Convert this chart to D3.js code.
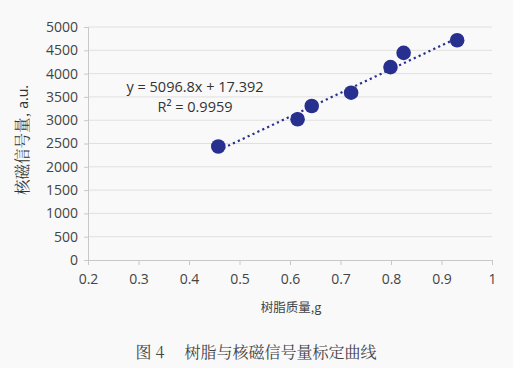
<!DOCTYPE html>
<html><head><meta charset="utf-8">
<script src="https://cdn.jsdelivr.net/npm/d3@7"></script>
<style>
html,body{margin:0;padding:0;background:#f9f9f9;}
svg{display:block;}
</style></head>
<body>
<script>
const massG = [0.458, 0.615, 0.643, 0.721, 0.799, 0.825, 0.931];
const signal = [2435, 3020, 3305, 3590, 4140, 4445, 4715];
const xTicks = [0.2,0.3,0.4,0.5,0.6,0.7,0.8,0.9,1];
const yTicks = [0,500,1000,1500,2000,2500,3000,3500,4000,4500,5000];
const slope = 5096.8, intercept = 17.392;
const eqText = "y = 5096.8x + 17.392";
const r2Text = "R² = 0.9959";
const xTitle = "树脂质量,g";
const yTitleCn = "核磁信号量,";
const yTitleEn = " a.u.";
const caption = "图 4\u3000 树脂与核磁信号量标定曲线";

const W=513,H=368;
const svg=d3.select("body").append("svg").attr("width",W).attr("height",H);
svg.append("rect").attr("width",W).attr("height",H).attr("fill","#f9f9f9");
const x=d3.scaleLinear().domain([0.2,1]).range([88,492]);
const y=d3.scaleLinear().domain([0,5000]).range([260,27]);
const col="#27308f";

// gridlines
svg.append("g").selectAll("line").data(yTicks.filter(d=>d>0)).join("line")
 .attr("x1",x(0.2)).attr("x2",x(1)).attr("y1",d=>y(d)).attr("y2",d=>y(d))
 .attr("stroke","#e0e0e0").attr("stroke-width",1);

const tickFont="'Open Sans','Liberation Sans',sans-serif";
const xa=svg.append("g").attr("transform",`translate(0,${y(0)})`)
 .call(d3.axisBottom(x).tickValues(xTicks).tickSize(5).tickPadding(9).tickFormat(d=>String(+d.toFixed(1))));
const ya=svg.append("g").attr("transform",`translate(${x(0.2)},0)`)
 .call(d3.axisLeft(y).tickValues(yTicks).tickSize(4).tickPadding(6).tickFormat(d=>String(d)));
[xa,ya].forEach(a=>{
 a.select(".domain").attr("stroke","#c8c8c8");
 a.selectAll(".tick line").attr("stroke","#c8c8c8");
 a.selectAll("text").attr("fill","#444").attr("font-size",14).attr("font-family",tickFont);
});

// trendline
const x0=d3.min(massG), x1=d3.max(massG);
svg.append("line").attr("x1",x(x0)).attr("y1",y(slope*x0+intercept))
 .attr("x2",x(x1)).attr("y2",y(slope*x1+intercept))
 .attr("stroke",col).attr("stroke-width",2.2).attr("stroke-dasharray","2.2,3.2");

// points
svg.append("g").selectAll("circle").data(massG.map((m,i)=>[m,signal[i]])).join("circle")
 .attr("cx",d=>x(d[0])).attr("cy",d=>y(d[1])).attr("r",7.3).attr("fill",col);

// equation
svg.append("text").attr("x",195).attr("y",92).attr("text-anchor","middle")
 .attr("font-family",tickFont).attr("font-size",14.5).attr("fill","#333").text(eqText);
svg.append("text").attr("x",195).attr("y",112).attr("text-anchor","middle")
 .attr("font-family",tickFont).attr("font-size",14.5).attr("fill","#333").text(r2Text);

// axis titles
svg.append("text").attr("x",291).attr("y",312).attr("text-anchor","middle")
 .attr("font-family","'Noto Sans CJK SC',sans-serif").attr("font-size",12.5).attr("fill","#444").text(xTitle);
const yt=svg.append("text").attr("transform","translate(28,140) rotate(-90)").attr("text-anchor","middle")
 .attr("fill","#333");
yt.append("tspan").attr("font-family","'Noto Serif CJK SC','Noto Sans CJK SC',serif").attr("font-size",15.5).text(yTitleCn);
yt.append("tspan").attr("font-family",tickFont).attr("font-size",14).text(yTitleEn);

// caption
svg.append("text").attr("x",256).attr("y",358).attr("text-anchor","middle")
 .attr("font-family","'Noto Serif CJK SC','Noto Sans CJK SC',serif").attr("font-size",16).attr("fill","#444").text(caption);
</script>
</body></html>
